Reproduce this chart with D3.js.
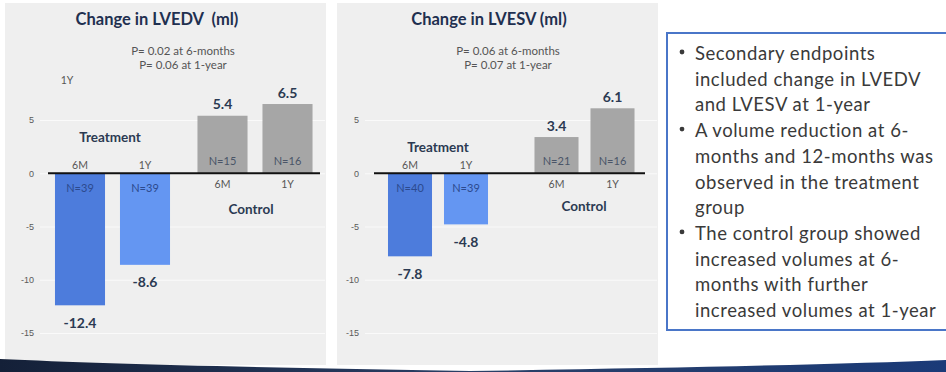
<!DOCTYPE html>
<html><head><meta charset="utf-8">
<script src="https://cdn.jsdelivr.net/npm/d3@7"></script>
<style>
html,body{margin:0;padding:0;background:#fff;}
svg{display:block;font-family:Lato,"Open Sans",sans-serif;}
text{white-space:pre;}
</style></head>
<body>
<svg id="chart" width="946" height="372"></svg>
<script>
// ---- data ----
const groups = ["Treatment", "Control"];
const periods = ["6M", "1Y"];
const lvedvValues = [[-12.4, -8.6], [5.4, 6.5]];
const lvedvN = [[39, 39], [15, 16]];
const lvesvValues = [[-7.8, -4.8], [3.4, 6.1]];
const lvesvN = [[40, 39], [21, 16]];
const yTicks = [5, 0, -5, -10, -15];
const panelTitles = ["Change in LVEDV  (ml)", "Change in LVESV (ml)"];
const pTexts = [["P= 0.02 at 6-months", "P= 0.06 at 1-year"], ["P= 0.06 at 6-months", "P= 0.07 at 1-year"]];
const bullets = [
  ["Secondary endpoints", "included change in LVEDV", "and LVESV at 1-year"],
  ["A volume reduction at 6-", "months and 12-months was", "observed in the treatment", "group"],
  ["The control group showed", "increased volumes at 6-", "months with further", "increased volumes at 1-year"]
];

const svg = d3.select("#chart");
const colors = {Treatment: ["#4d7cdc", "#6496f2"], Control: ["#a6a6a6", "#a6a6a6"]};
const fmtVal = v => v.toFixed(1);          // hyphen-minus like the source
const fmtTick = v => String(v);

const panels = [
  {values: lvedvValues, n: lvedvN, title: panelTitles[0], p: pTexts[0],
   bg: [5, 3, 321, 362], titleX: 157, pX: 183, tickX: 40, gridEnd: 325,
   outer: [41.25, 326.25], innerHalf: 65, innerPad: 0.23, zero: [48, 320],
   treatLbl: [110, 137], ctrlLbl: [251, 209], stray: true},
  {values: lvesvValues, n: lvesvN, title: panelTitles[1], p: pTexts[1],
   bg: [337, 3, 321, 362], titleX: 489, pX: 508, tickX: 365, gridEnd: 657,
   outer: [364.75, 657.75], innerHalf: 56, innerPad: 0.214, zero: [374, 645],
   treatLbl: [438, 147], ctrlLbl: [584, 206], stray: false}
];

const y = d3.scaleLinear().domain([-15, 5]).range([333, 120]);

panels.forEach(P => {
  const g = svg.append("g");
  g.append("rect").attr("x", P.bg[0]).attr("y", P.bg[1]).attr("width", P.bg[2]).attr("height", P.bg[3]).attr("fill", "#efefef");

  const ax = g.append("g").attr("transform", `translate(${P.tickX},0)`)
    .call(d3.axisLeft(y).tickValues(yTicks).tickSize(-(P.gridEnd - P.tickX)).tickPadding(6).tickFormat(fmtTick));
  ax.select(".domain").remove();
  ax.selectAll(".tick line").attr("stroke", "#fafafa").attr("stroke-width", 1.2);
  ax.selectAll(".tick text").attr("fill", "#5a5a5a").attr("font-size", 9).attr("font-family", "Liberation Sans, Arial, sans-serif");

  g.append("text").attr("x", P.titleX).attr("y", 19).attr("text-anchor", "middle").attr("dominant-baseline", "central")
    .attr("font-size", 16.5).attr("font-weight", "bold").attr("fill", "#1f3050").text(P.title);
  P.p.forEach((t, i) => g.append("text").attr("x", P.pX).attr("y", 50 + i * 14).attr("text-anchor", "middle")
    .attr("dominant-baseline", "central").attr("font-size", 11.5).attr("fill", "#555").text(t));
  if (P.stray) g.append("text").attr("x", 67).attr("y", 80).attr("text-anchor", "middle").attr("dominant-baseline", "central")
    .attr("font-size", 10.5).attr("fill", "#555").text("1Y");

  const xOuter = d3.scaleBand().domain(groups).range(P.outer);
  groups.forEach((grp, gi) => {
    const c = xOuter(grp) + xOuter.bandwidth() / 2;
    const xInner = d3.scaleBand().domain(periods).range([c - P.innerHalf, c + P.innerHalf])
      .paddingInner(P.innerPad).paddingOuter(P.innerPad / 2);
    periods.forEach((per, pi) => {
      const v = P.values[gi][pi];
      const x0 = xInner(per), w = xInner.bandwidth(), cx = x0 + w / 2;
      g.append("rect").attr("x", x0).attr("width", w)
        .attr("y", Math.min(y(v), y(0))).attr("height", Math.abs(y(v) - y(0)))
        .attr("fill", colors[grp][pi]);
      const neg = v < 0;
      g.append("text").attr("x", cx).attr("y", neg ? y(v) + 17 : y(v) - 12)
        .attr("text-anchor", "middle").attr("dominant-baseline", "central")
        .attr("font-size", 14).attr("font-weight", "bold").attr("fill", "#2b3a52").text(fmtVal(v));
      g.append("text").attr("x", cx).attr("y", neg ? y(0) + 14 : y(0) - 13)
        .attr("text-anchor", "middle").attr("dominant-baseline", "central")
        .attr("font-size", 11).attr("fill", neg ? "#2c4a8e" : "#4a5568").text("N=" + P.n[gi][pi]);
      g.append("text").attr("x", cx).attr("y", neg ? y(0) - 8 : y(0) + 11)
        .attr("text-anchor", "middle").attr("dominant-baseline", "central")
        .attr("font-size", 10.5).attr("fill", "#555").text(per);
    });
  });
  g.append("line").attr("x1", P.zero[0]).attr("x2", P.zero[1]).attr("y1", y(0)).attr("y2", y(0))
    .attr("stroke", "#111").attr("stroke-width", 2);
  g.append("text").attr("x", P.treatLbl[0]).attr("y", P.treatLbl[1]).attr("text-anchor", "middle").attr("dominant-baseline", "central")
    .attr("font-size", 13.5).attr("font-weight", "bold").attr("fill", "#2b3a52").text("Treatment");
  g.append("text").attr("x", P.ctrlLbl[0]).attr("y", P.ctrlLbl[1]).attr("text-anchor", "middle").attr("dominant-baseline", "central")
    .attr("font-size", 13.5).attr("font-weight", "bold").attr("fill", "#2b3a52").text("Control");
});

// text box
svg.append("rect").attr("x", 667).attr("y", 33).attr("width", 290).attr("height", 297)
  .attr("fill", "#fff").attr("stroke", "#4a76c8").attr("stroke-width", 2);
let line = 0;
bullets.forEach(b => {
  b.forEach((t, i) => {
    const yy = 53 + line * 25.7;
    if (i === 0) svg.append("circle").attr("cx", 682).attr("cy", yy - 1).attr("r", 2.4).attr("fill", "#3a3a3a");
    svg.append("text").attr("x", 695).attr("y", yy).attr("dominant-baseline", "central")
      .attr("font-size", 18.5).attr("letter-spacing", 0.55).attr("fill", "#3a3a3a").text(t);
    line++;
  });
});

// bottom swoosh
const grad = svg.append("defs").append("linearGradient").attr("id", "sw").attr("x1", "0").attr("x2", "1");
grad.append("stop").attr("offset", "0").attr("stop-color", "#142038");
grad.append("stop").attr("offset", "0.5").attr("stop-color", "#2a3f66");
grad.append("stop").attr("offset", "1").attr("stop-color", "#1a3a78");
svg.append("path").attr("d", "M0,359 Q150,366 470,371 Q800,366 946,360 L946,372 L0,372 Z").attr("fill", "url(#sw)");
</script>
</body></html>
